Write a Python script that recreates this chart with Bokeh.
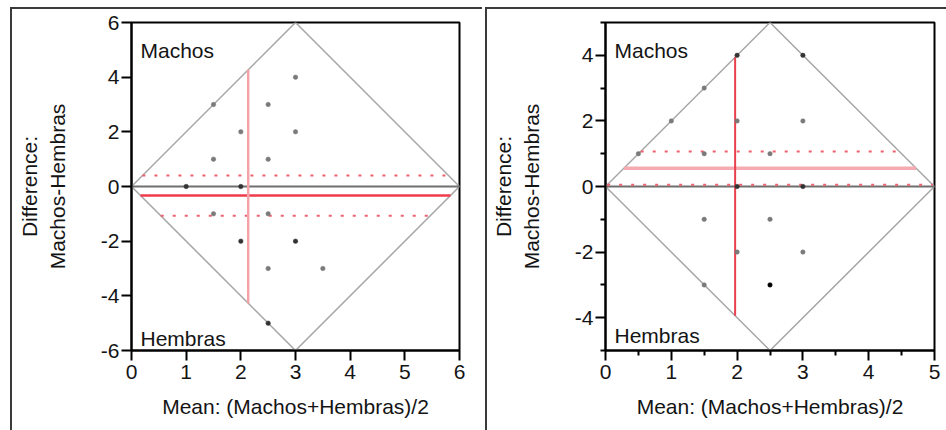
from bokeh.plotting import figure
from bokeh.layouts import row
from bokeh.models import Range1d, FixedTicker, Label, ColumnDataSource, BoxAnnotation
from bokeh.embed import file_html
from bokeh.resources import INLINE

# ---------------- data ----------------
# Left panel
left_mean = [1, 1.5, 1.5, 1.5, 2, 2, 2, 2.5, 2.5, 2.5, 2.5, 2.5, 3, 3, 3, 3.5]
left_diff = [0, 3, 1, -1, 2, 0, -2, 3, 1, -1, -3, -5, 4, 2, -2, -3]
left_count = [2, 1, 1, 1, 1, 2, 2, 1, 1, 1, 1, 2, 1, 1, 2, 1]
left_diff_mean = -0.33
left_diff_lower = -1.07
left_diff_upper = 0.40
left_mean_mean = 2.135
left_x_max = 6
left_y_max = 6
left_x_ticks = [0, 1, 2, 3, 4, 5, 6]
left_x_labels = ["0", "1", "2", "3", "4", "5", "6"]
left_y_ticks = [-6, -4, -2, 0, 2, 4, 6]
left_y_labels = ["-6", "-4", "-2", "0", "2", "4", "6"]
left_x_minor = []
left_y_minor = []

# Right panel
right_mean = [0.5, 1, 1.5, 1.5, 1.5, 1.5, 2, 2, 2, 2, 2.5, 2.5, 2.5, 3, 3, 3, 3]
right_diff = [1, 2, 3, 1, -1, -3, 4, 2, 0, -2, 1, -1, -3, 4, 2, 0, -2]
right_count = [1, 1, 1, 1, 1, 1, 2, 1, 2, 1, 1, 1, 3, 2, 1, 2, 1]
right_diff_mean = 0.56
right_diff_lower = 0.05
right_diff_upper = 1.07
right_mean_mean = 1.97
right_x_max = 5
right_y_max = 5
right_x_ticks = [0, 1, 2, 3, 4, 5]
right_x_labels = ["0", "1", "2", "3", "4", "5"]
right_y_ticks = [-4, -2, 0, 2, 4]
right_y_labels = ["-4", "-2", "0", "2", "4"]
right_x_minor = [0.5, 1.5, 2.5, 3.5, 4.5]
right_y_minor = [-5, -3, -1, 1, 3, 5]

x_title = "Mean: (Machos+Hembras)/2"
y_title = "Difference:\nMachos-Hembras"
top_label = "Machos"
bottom_label = "Hembras"

FONT = "Liberation Sans"
TXT = "#141414"


def half_width(y, xmax, ymax):
    # x distance from the edge to the diamond for a given difference
    return abs(y) / ymax * (xmax / 2.0)


def half_height(x, xmax, ymax):
    return ymax * (1 - abs(x - xmax / 2.0) / (xmax / 2.0))


def panel(mean, diff, count, dmean, dlo, dhi, mmean, xmax, ymax,
          xt, xl, yt, yl, xminor, yminor, mb_left, mb_right, fw,
          hcol, hwidth, vcol, vwidth, hemb_off, margin):
    p = figure(frame_width=fw, frame_height=326,
               x_range=Range1d(0, xmax), y_range=Range1d(-ymax, ymax),
               output_backend="svg", toolbar_location=None,
               min_border_left=mb_left, min_border_right=mb_right,
               min_border_top=13, min_border_bottom=82)
    p.styles = {"border-left": "2px solid #3a3a3a", "border-top": "2px solid #3a3a3a"}
    p.margin = margin
    p.grid.visible = False
    p.outline_line_color = "black"
    p.outline_line_width = 2
    p.outline_line_alpha = 1

    for ax in (p.xaxis[0], p.yaxis[0]):
        ax.axis_line_color = "black"
        ax.axis_line_width = 2
        ax.major_tick_out = 10
        ax.major_tick_in = 0
        ax.major_tick_line_width = 2
        ax.minor_tick_out = 5
        ax.minor_tick_in = 0
        ax.minor_tick_line_width = 2
        ax.major_label_text_font = FONT
        ax.major_label_text_font_size = "21px"
        ax.major_label_text_color = TXT
        ax.axis_label_text_font = FONT
        ax.axis_label_text_font_size = "21px"
        ax.axis_label_text_font_style = "normal"
        ax.axis_label_text_color = TXT

    p.xaxis.ticker = FixedTicker(ticks=xt, minor_ticks=xminor)
    p.yaxis.ticker = FixedTicker(ticks=yt, minor_ticks=yminor)
    p.xaxis.major_label_overrides = {t: l for t, l in zip(xt, xl)}
    p.yaxis.major_label_overrides = {t: l for t, l in zip(yt, yl)}
    p.xaxis.axis_label = x_title
    p.yaxis.axis_label = y_title
    p.xaxis.major_label_standoff = 4
    p.yaxis.major_label_standoff = 2
    p.xaxis.axis_label_standoff = 13
    p.yaxis.axis_label_standoff = 29

    # diamond
    dx = [0, xmax / 2, xmax, xmax / 2, 0]
    dy = [0, ymax, 0, -ymax, 0]
    p.line(dx, dy, line_color="#a6a6a6", line_width=1.5)

    # zero line
    p.line([0, xmax], [0, 0], line_color="#6f6f6f", line_width=2)

    # limits (dotted)
    for lim in (dlo, dhi):
        w = half_width(lim, xmax, ymax)
        p.line([w, xmax - w], [lim, lim], line_color="#f0606e",
               line_width=2, line_dash="3 9")

    # mean difference
    w = half_width(dmean, xmax, ymax)
    p.line([w, xmax - w], [dmean, dmean], line_color=hcol, line_width=hwidth)

    # mean of means
    h = half_height(mmean, xmax, ymax)
    p.line([mmean, mmean], [-h, h], line_color=vcol, line_width=vwidth)

    # points
    cols = ["#7a7a7a" if c == 1 else ("#333333" if c == 2 else "#000000") for c in count]
    src = ColumnDataSource(dict(x=mean, y=diff, c=cols))
    p.scatter("x", "y", source=src, size=4.5, marker="circle",
              fill_color="c", line_color="c", line_width=0.5)

    p.add_layout(Label(x=0, y=ymax, x_offset=9, y_offset=-16, text=top_label,
                       text_baseline="top", text_font=FONT, text_font_size="21px",
                       text_color=TXT))
    p.add_layout(Label(x=0, y=-ymax, x_offset=9, y_offset=hemb_off, text=bottom_label,
                       text_baseline="bottom", text_font=FONT, text_font_size="21px",
                       text_color=TXT))
    return p


p1 = panel(left_mean, left_diff, left_count, left_diff_mean, left_diff_lower,
           left_diff_upper, left_mean_mean, left_x_max, left_y_max,
           left_x_ticks, left_x_labels, left_y_ticks, left_y_labels,
           left_x_minor, left_y_minor, 119, 25, 326,
           "#ef3b4b", 2.5, "#f4a3ab", 2.5, 1, (7, 0, 0, 10))
p1.yaxis.minor_tick_line_color = None
p1.xaxis.minor_tick_line_color = None

p2 = panel(right_mean, right_diff, right_count, right_diff_mean, right_diff_lower,
           right_diff_upper, right_mean_mean, right_x_max, right_y_max,
           right_x_ticks, right_x_labels, right_y_ticks, right_y_labels,
           right_x_minor, right_y_minor, 118, 14, 327,
           "#f6aab1", 3.5, "#e8404c", 2, 4, (7, 0, 0, 3))

# small stray vertical stroke below the right panel's axis title area
p2.add_layout(BoxAnnotation(left=-95, right=-93, top=-15, bottom=-45,
                            left_units="screen", right_units="screen",
                            top_units="screen", bottom_units="screen",
                            fill_color="#111111", fill_alpha=1, line_color=None))

layout = row(p1, p2)
layout.spacing = 0

open("out.html", "w").write(file_html(layout, INLINE))
